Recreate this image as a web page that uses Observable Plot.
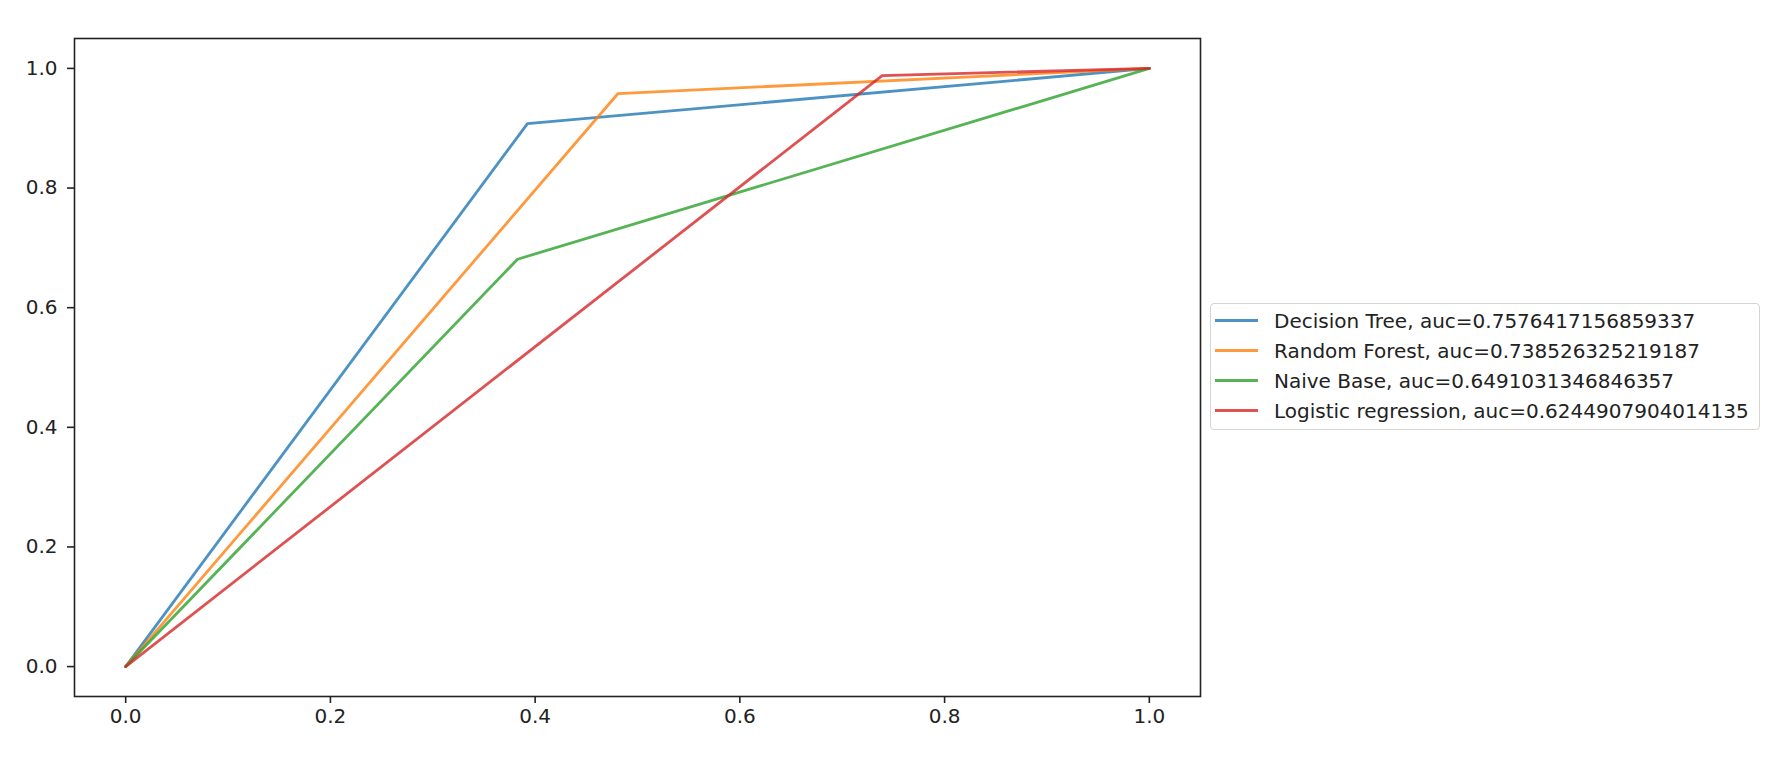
<!DOCTYPE html>
<html>
<head>
<meta charset="utf-8">
<script src="https://cdn.jsdelivr.net/npm/d3@7"></script>
<script src="https://cdn.jsdelivr.net/npm/@observablehq/plot@0.6"></script>
<style>
  html, body { margin: 0; padding: 0; background: #fff; overflow: hidden; }
  #wrap { position: relative; width: 1780px; height: 774px; }
  #legend {
    position: absolute; left: 1210px; top: 303px; width: 548px; height: 125px;
    border: 1px solid #d4d4d4; border-radius: 4px; background: rgba(255,255,255,0.8);
    font-family: "DejaVu Sans", sans-serif; font-size: 20px; color: #222;
  }
  .row { position: absolute; left: 0; height: 30px; line-height: 30px; white-space: nowrap; }
  .swatch { position: absolute; left: 4px; width: 43px; height: 3px; opacity: 0.8; }
  .label { position: absolute; left: 63px; }
</style>
</head>
<body>
<div id="wrap"></div>
<script>
// ---- data ----
const models = ["Decision Tree", "Random Forest", "Naive Base", "Logistic regression"];
const aucs = ["0.7576417156859337", "0.738526325219187", "0.6491031346846357", "0.6244907904014135"];
const fprDecisionTree = [0, 0.3925, 1];
const tprDecisionTree = [0, 0.9078, 1];
const fprRandomForest = [0, 0.481, 1];
const tprRandomForest = [0, 0.958, 1];
const fprNaiveBase = [0, 0.3828, 1];
const tprNaiveBase = [0, 0.681, 1];
const fprLogistic = [0, 0.739, 1];
const tprLogistic = [0, 0.988, 1];
const colors = ["#1f77b4", "#ff7f0e", "#2ca02c", "#d62728"];
const ticks = [0, 0.2, 0.4, 0.6, 0.8, 1.0];

const fprs = [fprDecisionTree, fprRandomForest, fprNaiveBase, fprLogistic];
const tprs = [tprDecisionTree, tprRandomForest, tprNaiveBase, tprLogistic];
const series = models.map((m, i) => fprs[i].map((f, j) => ({model: m, fpr: f, tpr: tprs[i][j]})));

const plot = Plot.plot({
  width: 1780,
  height: 774,
  marginLeft: 74,
  marginRight: 580,
  marginTop: 38,
  marginBottom: 78,
  style: {fontFamily: "DejaVu Sans, sans-serif", fontSize: "20px", color: "#222", background: "#fff"},
  x: {domain: [-0.05, 1.05]},
  y: {domain: [-0.05, 1.05]},
  color: {domain: models, range: colors},
  marks: [
    ...series.map(s => Plot.line(s, {x: "fpr", y: "tpr", stroke: "model", strokeWidth: 2.8, strokeOpacity: 0.8})),
    Plot.frame({stroke: "#222", strokeWidth: 1.6}),
    Plot.axisX({ticks, tickFormat: d => d.toFixed(1), tickSize: 7, tickPadding: 5, strokeWidth: 1.6, label: null}),
    Plot.axisY({ticks, tickFormat: d => d.toFixed(1), tickSize: 7, tickPadding: 10, strokeWidth: 1.6, label: null})
  ]
});

const wrap = document.getElementById("wrap");
wrap.appendChild(plot);

const legend = document.createElement("div");
legend.id = "legend";
models.forEach((m, i) => {
  const row = document.createElement("div");
  row.className = "row";
  row.style.top = (1.5 + i * 30.2) + "px";
  const sw = document.createElement("div");
  sw.className = "swatch";
  sw.style.top = "13px";
  sw.style.background = colors[i];
  const lab = document.createElement("span");
  lab.className = "label";
  lab.textContent = `${m}, auc=${aucs[i]}`;
  row.appendChild(sw);
  row.appendChild(lab);
  legend.appendChild(row);
});
wrap.appendChild(legend);
</script>
</body>
</html>
